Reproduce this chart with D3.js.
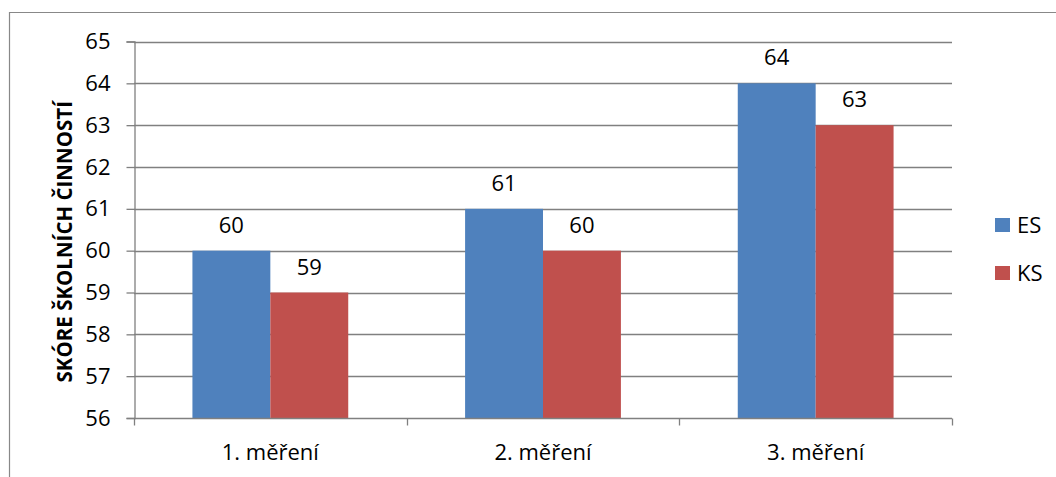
<!DOCTYPE html>
<html>
<head>
<meta charset="utf-8">
<script src="https://cdn.jsdelivr.net/npm/d3@7/dist/d3.min.js"></script>
<style>
  html, body { margin: 0; padding: 0; background: #fff; }
  svg { display: block; }
  text { font-family: "Open Sans", "Noto Sans", sans-serif; fill: #000; }
</style>
</head>
<body>
<svg id="chart" width="1056" height="477"></svg>
<script>
// Categories, series and values
const categories = ["1. měření", "2. měření", "3. měření"];
const seriesNames = ["ES", "KS"];
const esValues = [60, 61, 64];
const ksValues = [59, 60, 63];
const yTicks = [56, 57, 58, 59, 60, 61, 62, 63, 64, 65];
const yTitle = "SKÓRE ŠKOLNÍCH ČINNOSTÍ";
const colors = ["#4F81BD", "#C0504D"];

const rows = categories.map((c, i) => ({ cat: c, values: [esValues[i], ksValues[i]] }));

const svg = d3.select("#chart");
const gridColor = "#808080";

// Outer chart frame (left and top edges)
svg.append("path")
  .attr("d", "M9.5,477 V12.5 H1056")
  .attr("fill", "none")
  .attr("stroke", "#888888")
  .attr("stroke-width", 1.2);

const plot = { left: 134, right: 952, top: 41.5, bottom: 418 };

const x = d3.scaleBand().domain(categories).range([plot.left, plot.right]).padding(0);
// 150% gap width: each bar is band / 3.5
const barW = x.bandwidth() / 3.5;
const xs = d3.scaleBand().domain(seriesNames)
  .range([barW * 0.75, barW * 2.75]).padding(0);

const y = d3.scaleLinear().domain([56, 65]).range([plot.bottom, plot.top]);

// Horizontal gridlines
svg.append("g").selectAll("line")
  .data(yTicks.filter(t => t > 56))
  .join("line")
  .attr("x1", plot.left).attr("x2", plot.right)
  .attr("y1", d => Math.round(y(d)) + 0.5).attr("y2", d => Math.round(y(d)) + 0.5)
  .attr("stroke", gridColor).attr("stroke-width", 1.3);

// Bars
const groups = svg.append("g").selectAll("g")
  .data(rows).join("g")
  .attr("transform", d => `translate(${x(d.cat)},0)`);

groups.selectAll("rect")
  .data(d => d.values.map((v, i) => ({ s: seriesNames[i], v, i })))
  .join("rect")
  .attr("x", d => xs(d.s))
  .attr("width", xs.bandwidth())
  .attr("y", d => y(d.v))
  .attr("height", d => y(56) - y(d.v))
  .attr("fill", d => colors[d.i]);

// Value labels
groups.selectAll("text")
  .data(d => d.values.map((v, i) => ({ s: seriesNames[i], v, i })))
  .join("text")
  .attr("x", d => xs(d.s) + xs.bandwidth() / 2)
  .attr("y", d => y(d.v) - 18)
  .attr("text-anchor", "middle")
  .style("font-size", "22px")
  .text(d => d.v);

// Y axis
const yAxis = svg.append("g")
  .attr("transform", `translate(${plot.left + 0.5},0)`)
  .call(d3.axisLeft(y).tickValues(yTicks).tickSize(8).tickPadding(16).tickFormat(d3.format("d")));
yAxis.select(".domain").attr("stroke", gridColor).attr("stroke-width", 1.3);
yAxis.selectAll(".tick line").attr("stroke", gridColor).attr("stroke-width", 1.3);
yAxis.selectAll(".tick text")
  .style("font-size", "22px")
  .style("font-family", "'Open Sans', sans-serif")
  .attr("fill", "#000");

// X axis with tick marks at category boundaries
const xAxisG = svg.append("g").attr("transform", `translate(0,${Math.round(plot.bottom) + 0.5})`);
xAxisG.append("line")
  .attr("x1", plot.left).attr("x2", plot.right)
  .attr("stroke", gridColor).attr("stroke-width", 1.3);
const bounds = categories.map(c => x(c)).concat([plot.right]);
xAxisG.selectAll("line.tk")
  .data(bounds).join("line").attr("class", "tk")
  .attr("x1", d => Math.round(d) + 0.5).attr("x2", d => Math.round(d) + 0.5)
  .attr("y1", 0).attr("y2", 7)
  .attr("stroke", gridColor).attr("stroke-width", 1.3);
xAxisG.selectAll("text")
  .data(categories).join("text")
  .attr("x", d => x(d) + x.bandwidth() / 2)
  .attr("y", 41)
  .attr("text-anchor", "middle")
  .style("font-size", "22px")
  .text(d => d);

// Y axis title
svg.append("text")
  .attr("transform", `translate(72,${(plot.top + plot.bottom) / 2 + 12}) rotate(-90)`)
  .attr("text-anchor", "middle")
  .style("font-size", "20.5px")
  .style("font-weight", "bold")
  .text(yTitle);

// Legend
const legend = svg.append("g").selectAll("g")
  .data(seriesNames).join("g")
  .attr("transform", (d, i) => `translate(995,${218 + i * 48})`);
legend.append("rect")
  .attr("width", 15).attr("height", 14)
  .attr("fill", (d, i) => colors[i]);
legend.append("text")
  .attr("x", 22).attr("y", 15)
  .style("font-size", "22px")
  .text(d => d);
</script>
</body>
</html>
